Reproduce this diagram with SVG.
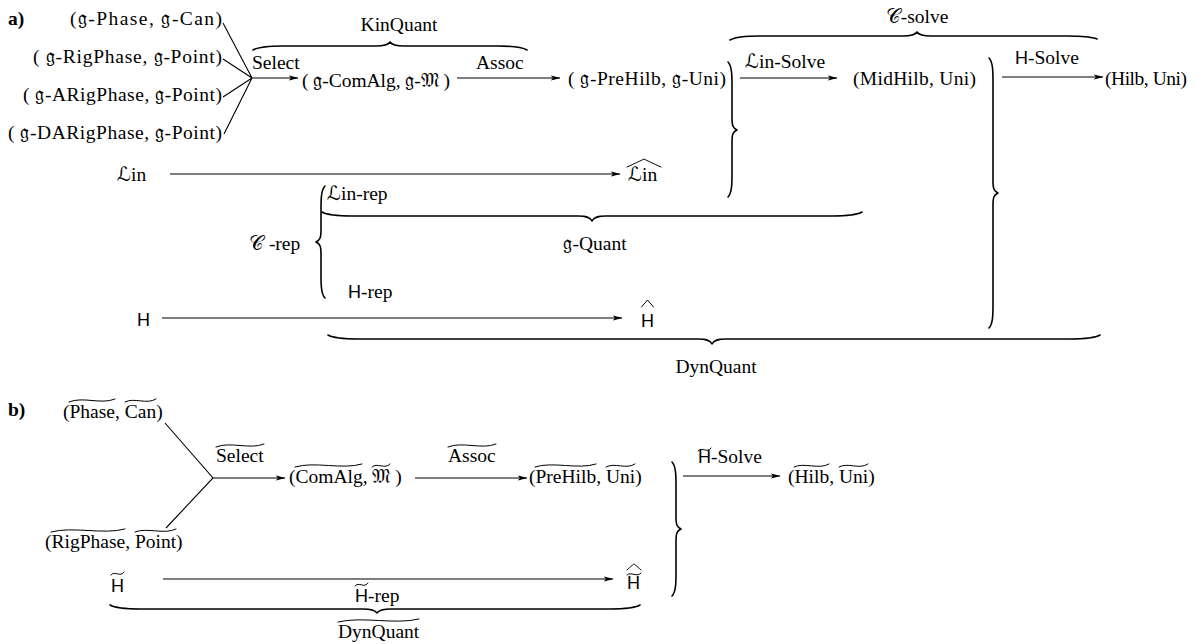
<svg xmlns="http://www.w3.org/2000/svg" width="1199" height="644" viewBox="0 0 1199 644">
  <style>
    text { font-family: "Liberation Serif", "DejaVu Serif", serif; font-size: 19.5px; fill: #000; }
    .sf { font-family: "Liberation Sans", "DejaVu Sans", sans-serif; font-size: 18px; }
    .m { font-family: "DejaVu Serif", "DejaVu Sans", serif; font-weight: normal; }
    .bold { font-weight: bold; }
    .ln { stroke: #000; stroke-width: 1.1; fill: none; }
    .arr { stroke: #000; stroke-width: 1.1; fill: none; marker-end: url(#ah); }
    .br { stroke: #000; stroke-width: 1.6; fill: none; stroke-linecap: round; stroke-linejoin: round; }
    .acc { stroke: #000; stroke-width: 1; fill: none; stroke-linecap: round; }
  </style>
  <defs>
    <marker id="ah" markerWidth="10" markerHeight="8" refX="9.5" refY="4" orient="auto" markerUnits="userSpaceOnUse">
      <path d="M0,1.3 L10,4 L0,6.7 L2.5,4 z" fill="#000"/>
    </marker>
  </defs>
  <rect width="1199" height="644" fill="#fff"/>

  <!-- ===== part a ===== -->
  <text class="bold" x="8" y="25">a)</text>

  <g id="a-phase-can"><text x="70" y="25" textLength="152" lengthAdjust="spacing">(<tspan class="m">𝔤</tspan>-Phase,  <tspan class="m">𝔤</tspan>-Can)</text></g>
  <g id="a-rigphase-point"><text x="33" y="63" textLength="189" lengthAdjust="spacing">( <tspan class="m">𝔤</tspan>-RigPhase,  <tspan class="m">𝔤</tspan>-Point)</text></g>
  <g id="a-arigphase-point"><text x="23" y="101" textLength="199" lengthAdjust="spacing">( <tspan class="m">𝔤</tspan>-ARigPhase,  <tspan class="m">𝔤</tspan>-Point)</text></g>
  <g id="a-darigphase-point"><text x="8" y="139" textLength="214" lengthAdjust="spacing">( <tspan class="m">𝔤</tspan>-DARigPhase,  <tspan class="m">𝔤</tspan>-Point)</text></g>

  <g id="a-comalg"><text x="302" y="87" textLength="148" lengthAdjust="spacing">( <tspan class="m">𝔤</tspan>-ComAlg, <tspan class="m">𝔤</tspan>-<tspan class="m">𝔐</tspan> )</text></g>
  <g id="a-prehilb"><text x="568" y="85" textLength="158" lengthAdjust="spacing">( <tspan class="m">𝔤</tspan>-PreHilb,  <tspan class="m">𝔤</tspan>-Uni)</text></g>
  <g id="a-midhilb"><text x="853" y="85" textLength="123" lengthAdjust="spacing">(MidHilb, Uni)</text></g>
  <g id="a-hilb"><text x="1105" y="85" textLength="82" lengthAdjust="spacing">(Hilb, Uni)</text></g>

  <g id="a-lin"><text x="117" y="181"><tspan class="m">ℒ</tspan>in</text></g>
  <g id="a-lin-hat">
    <text x="628" y="181"><tspan class="m">ℒ</tspan>in</text>
    <path class="acc" d="M627,167 C636,163 640,161 644,159 C648,161 652,163 661,167"/>
  </g>
  <g id="a-h"><text class="sf" x="137" y="326">H</text></g>
  <g id="a-h-hat">
    <text class="sf" x="641" y="327">H</text>
    <path class="acc" d="M641.5,307 L647.5,300 L653.5,307" stroke-width="1.5"/>
  </g>

  <!-- braces and their labels -->
  <g id="a-kinquant">
    <path class="br" d="M253,50 C259,46.5 273,46 283,46 L376,46 C384,46 388,45 390,42 C392,45 396,46 404,46 L497,46 C507,46 521,46.5 527,50"/>
    <text x="399" y="31" text-anchor="middle">KinQuant</text>
  </g>
  <g id="a-csolve">
    <path class="br" d="M730,40 C736,36.5 750,36 760,36 L903,36 C911,36 915,35 917,32 C919,35 923,36 931,36 L1067,36 C1077,36 1091,36.5 1097,39"/>
    <text x="917" y="23" text-anchor="middle"><tspan class="m">𝒞</tspan>-solve</text>
  </g>
  <g id="a-brace-lin">
    <path class="br" d="M728,62 C732,66 732,76 732,86 L732,118 C732,126 733,128 737,130 C733,132 732,134 732,142 L732,173 C732,183 732,193 728,197"/>
  </g>
  <g id="a-brace-big">
    <path class="br" d="M989,58 C993,62 993,72 993,82 L993,181 C993,189 994,191 998,193 C994,195 993,197 993,205 L993,304 C993,314 993,324 989,328"/>
  </g>
  <g id="a-crep">
    <text x="249" y="250"><tspan class="m">𝒞</tspan> -rep</text>
    <path class="br" d="M325,186 C321,190 321,200 321,210 L321,230 C321,238 320,240 316,242 C320,244 321,246 321,254 L321,274 C321,284 321,294 325,298"/>
    <text x="327" y="200"><tspan class="m">ℒ</tspan>in-rep</text>
    <text x="348" y="298"><tspan class="sf">H</tspan>-rep</text>
  </g>
  <g id="a-gquant">
    <path class="br" d="M322,212 C328,215.5 342,216 352,216 L578,216 C586,216 590,217 592,221 C594,217 598,216 606,216 L832,216 C842,216 856,215.5 862,212"/>
    <text x="595" y="250" text-anchor="middle"><tspan class="m">𝔤</tspan>-Quant</text>
  </g>
  <g id="a-dynquant">
    <path class="br" d="M328,335 C334,338.5 348,339 358,339 L698,339 C706,339 710,340 712,344 C714,340 718,339 726,339 L1070,339 C1080,339 1094,338.5 1100,335"/>
    <text x="716" y="373" text-anchor="middle">DynQuant</text>
  </g>

  <!-- part a connectors -->
  <g id="a-connectors">
    <path class="ln" d="M223,23 L252,78 M223,59 L252,78 M223,97 L252,78 M224,134 L252,78"/>
    <path class="arr" d="M252,78 L298,78"/>
    <text x="252" y="69">Select</text>
    <path class="arr" d="M457,78 L560,78"/>
    <text x="476" y="69">Assoc</text>
    <path class="arr" d="M740,78 L837,78"/>
    <text x="745" y="68"><tspan class="m">ℒ</tspan>in-Solve</text>
    <path class="arr" d="M1002,77 L1103,77"/>
    <text x="1015" y="64"><tspan class="sf">H</tspan>-Solve</text>
    <path class="arr" d="M170,174 L620,174"/>
    <path class="arr" d="M162,318 L622,318"/>
  </g>

  <!-- ===== part b ===== -->
  <text class="bold" x="8" y="416">b)</text>

  <g id="b-phase-can">
    <text x="63" y="418">(Phase, Can)</text>
    <path class="acc" d="M69,402 C83,396 101,405 115,399 M125,402 C134,397 147,405 156,399"/>
  </g>
  <g id="b-rigphase-point">
    <text x="45" y="548">(RigPhase, Point)</text>
    <path class="acc" d="M51,532 C73,526 103,535 125,529 M135,532 C147,527 164,535 176,529"/>
  </g>
  <g id="b-comalg">
    <text x="289" y="483">(ComAlg, <tspan class="m">𝔐</tspan> )</text>
    <path class="acc" d="M295,467 C315,461 342,470 362,464 M372,467 C377,462 385,470 390,464"/>
  </g>
  <g id="b-prehilb">
    <text x="529" y="483">(PreHilb, Uni)</text>
    <path class="acc" d="M535,467 C553,461 578,470 596,464 M606,467 C615,462 626,470 635,464"/>
  </g>
  <g id="b-hilb">
    <text x="788" y="483">(Hilb, Uni)</text>
    <path class="acc" d="M794,467 C804,462 819,470 829,464 M839,467 C848,462 859,470 868,464"/>
  </g>
  <g id="b-h">
    <text class="sf" x="111" y="592">H</text>
    <path class="acc" d="M111,575 C115,570 120,578 124,572"/>
  </g>
  <g id="b-h-hat">
    <text class="sf" x="627" y="589">H</text>
    <path class="acc" d="M627,570 C631,566 634,564 634,564 C634,564 637,566 641,570"/>
    <path class="acc" d="M627,575 C631,571 637,578 641,573"/>
  </g>
  <g id="b-brace">
    <path class="br" d="M672,462 C676,466 676,476 676,486 L676,517 C676,525 677,527 681,529 C677,531 676,533 676,541 L676,572 C676,582 676,592 672,596"/>
  </g>
  <g id="b-dynquant">
    <path class="br" d="M110,605 C116,608.5 130,609 140,609 L363,609 C371,609 375,610 377,613 C379,610 383,609 391,609 L610,609 C620,609 634,608.5 640,605"/>
    <text x="338" y="638">DynQuant</text>
    <path class="acc" d="M338,622 C362,616 395,625 419,619"/>
  </g>

  <!-- part b connectors -->
  <g id="b-connectors">
    <path class="ln" d="M165,423 L213,478 L166,528"/>
    <path class="arr" d="M213,478 L285,478"/>
    <text x="216" y="462">Select</text>
    <path class="acc" d="M216,447 C230,441 250,450 264,444"/>
    <path class="arr" d="M415,478 L527,478"/>
    <text x="448" y="462">Assoc</text>
    <path class="acc" d="M448,447 C462,441 482,450 496,444"/>
    <path class="arr" d="M683,476 L780,476"/>
    <text x="698" y="463"><tspan class="sf">H</tspan>-Solve</text>
    <path class="acc" d="M698,451 C702,446 707,454 711,448"/>
    <path class="arr" d="M163,579 L613,579"/>
    <text x="355" y="602"><tspan class="sf">H</tspan>-rep</text>
    <path class="acc" d="M355,586 C359,581 364,589 368,583"/>
  </g>
</svg>
